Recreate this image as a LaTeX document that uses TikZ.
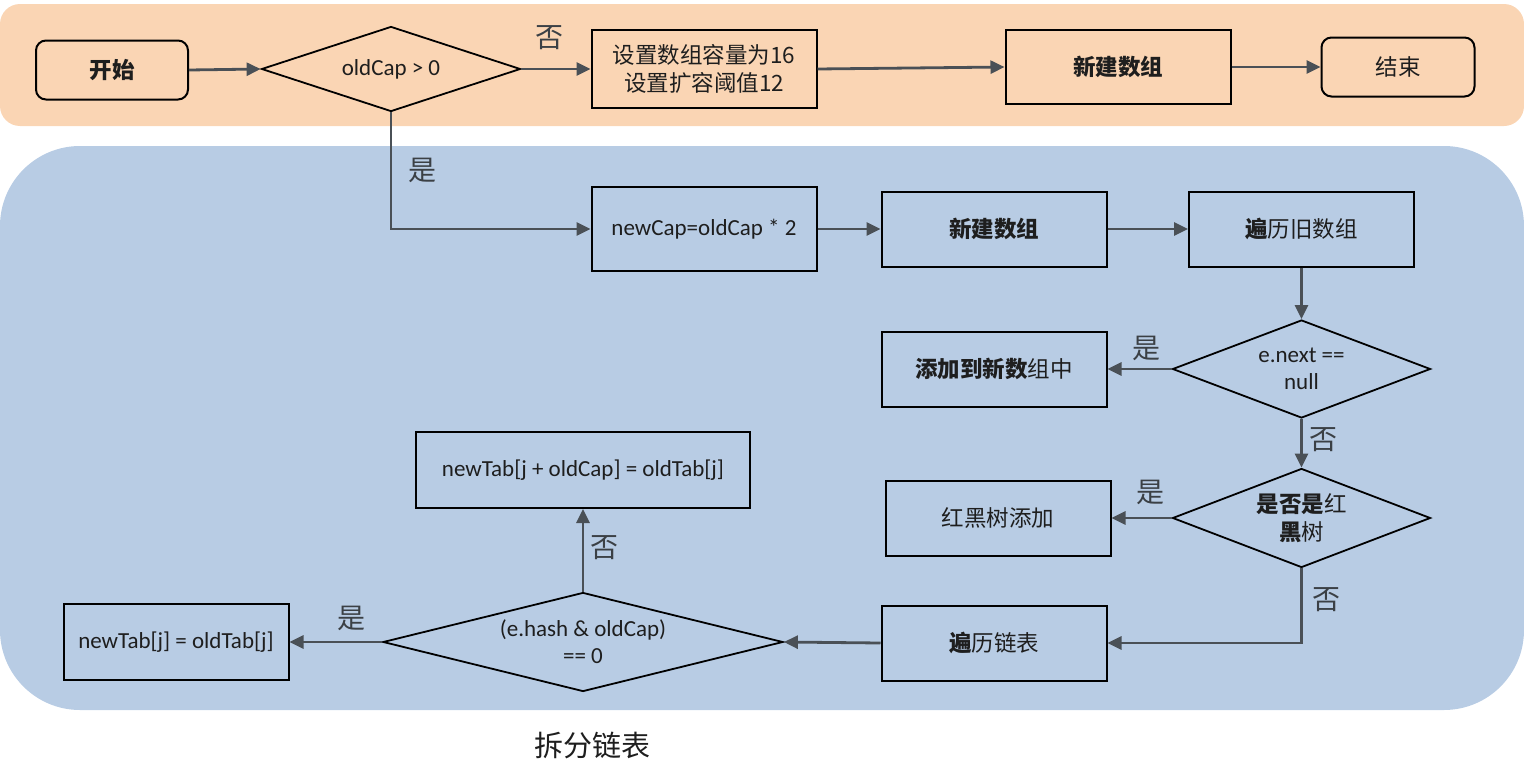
\documentclass[tikz,border=0pt]{standalone}
\usepackage{fontspec}
\setmainfont{Carlito}
\newfontfamily\cjk{Noto Sans CJK SC}
\usetikzlibrary{shapes.geometric,arrows.meta}
\definecolor{peach}{HTML}{FAD5B4}
\definecolor{paleblue}{HTML}{B8CCE4}
\definecolor{arrowgrey}{HTML}{4A5056}
\definecolor{txt}{HTML}{1E1E1E}
\tikzset{
  box/.style={draw=black, line width=2pt, text=txt, font=\fontsize{23}{28}\selectfont, align=center, inner sep=0pt},
  rbox/.style={box, rounded corners=10pt},
  dia/.style={diamond, draw=black, line width=1.8pt, text=txt, font=\fontsize{23}{27}\selectfont, align=center, inner sep=0pt},
  cjkb/.style={font=\cjk\fontsize{22.5}{28}\selectfont},
  conn/.style={draw=arrowgrey, line width=2.8pt, -{Triangle[length=14pt,width=13pt]}},
  lbl/.style={text=arrowgrey!80!black, font=\cjk\fontsize{28}{32}\selectfont, inner sep=0pt}
}
\begin{document}
\begin{tikzpicture}[x=1pt,y=-1pt]
\useasboundingbox (0,0) rectangle (1524,779);
% bands
\fill[peach, rounded corners=20pt] (0,4) rectangle (1524,126);
\fill[paleblue, rounded corners=80pt] (0,146) rectangle (1524,710);

% top row
\node[rbox, cjkb, minimum width=152pt, minimum height=59pt] (start) at (112,70) {\bfseries 开始};
\node[dia, minimum width=259pt, minimum height=85pt, aspect=3.05] (d1) at (391,69) {oldCap > 0};
\node[box, cjkb, minimum width=225pt, minimum height=78pt] (set) at (704,69) {设置数组容量为16\\设置扩容阈值12};
\node[box, cjkb, minimum width=225pt, minimum height=74pt] (new1) at (1118,67) {\bfseries 新建数组};
\node[rbox, cjkb, minimum width=153pt, minimum height=59pt] (end) at (1398,67) {结束};

% middle
\node[box, minimum width=225pt, minimum height=84pt] (newcap) at (704,229) {newCap=oldCap * 2};
\node[box, cjkb, minimum width=225pt, minimum height=75pt] (new2) at (994,229) {\bfseries 新建数组};
\node[box, cjkb, minimum width=225pt, minimum height=75pt] (trav) at (1301.5,229) {\bfseries 遍\mdseries 历旧数组};
\node[dia, minimum width=258pt, minimum height=98pt, aspect=2.63] (d2) at (1301.5,369) {e.next ==\\null};
\node[box, cjkb, minimum width=225pt, minimum height=75pt] (add) at (994,369) {\bfseries 添加到新数\mdseries 组中};
\node[dia, cjkb, minimum width=258pt, minimum height=99pt, aspect=2.6] (d3) at (1301.5,518) {\bfseries 是否是\mdseries 红\\\bfseries 黑\mdseries 树};
\node[box, cjkb, minimum width=225pt, minimum height=75pt] (rb) at (998,518) {红黑树添加};
\node[box, cjkb, minimum width=225pt, minimum height=75pt] (list) at (994,643) {\bfseries 遍\mdseries 历链表};
\node[dia, minimum width=400pt, minimum height=99pt, aspect=4.04] (d4) at (583,642) {(e.hash \& oldCap)\\== 0};
\node[box, minimum width=225pt, minimum height=76pt] (tab1) at (176,642) {newTab[j] = oldTab[j]};
\node[box, minimum width=334pt, minimum height=76pt] (tab2) at (583,470) {newTab[j + oldCap] = oldTab[j]};

\node[font=\cjk\fontsize{29}{32}\selectfont, text=txt] (title) at (592,745) {拆分链表};

% connectors
\draw[conn] (start.east) -- (d1.west);
\draw[conn] (d1.east) -- (set.west);
\node[lbl] (l1) at (549,38) {否};
\draw[conn] (set.east) -- (new1.west);
\draw[conn] (new1.east) -- (end.west);
\draw[conn] (d1.south) |- (newcap.west);
\node[lbl] (l2) at (422,170) {是};
\draw[conn] (newcap.east) -- (new2.west);
\draw[conn] (new2.east) -- (trav.west);
\draw[conn] (trav.south) -- (d2.north);
\draw[conn] (d2.west) -- (add.east);
\node[lbl] (l3) at (1146,348) {是};
\draw[conn] (d2.south) -- (d3.north);
\node[lbl] (l4) at (1323,440) {否};
\draw[conn] (d3.west) -- (rb.east);
\node[lbl] (l5) at (1150,492) {是};
\draw[conn] (d3.south) |- (list.east);
\node[lbl] (l6) at (1326,600) {否};
\draw[conn] (list.west) -- (d4.east);
\draw[conn] (d4.west) -- (tab1.east);
\node[lbl] (l7) at (351,618) {是};
\draw[conn] (d4.north) -- (d4.north |- tab2.south);
\node[lbl] (l8) at (604,548) {否};
\end{tikzpicture}
\end{document}
